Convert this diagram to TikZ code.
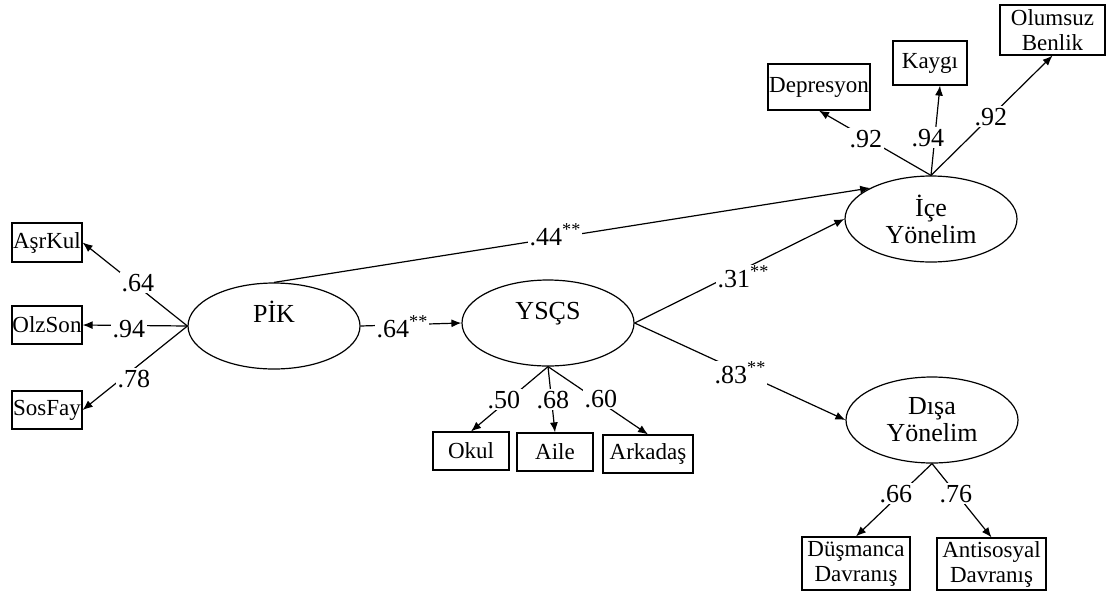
\documentclass[tikz,border=0pt]{standalone}
\usepackage{fontspec}
\setmainfont{Liberation Serif}
\usetikzlibrary{shapes.geometric,arrows.meta}
\begin{document}
\begin{tikzpicture}[x=1pt,y=-1pt,
latent/.style={draw,ellipse,line width=1.2pt,minimum width=172pt,minimum height=86pt,inner sep=0pt,align=center,font=\fontsize{26}{27}\selectfont},
latentone/.style={latent,text height=18pt,text depth=26pt},
obs/.style={draw,rectangle,line width=1.2pt,inner sep=0pt,align=center,font=\fontsize{23}{25}\selectfont},
load/.style={line width=1.2pt,-{Latex[length=10pt,width=8pt]}},
coef/.style={fill=white,inner sep=1.5pt,anchor=base west,font=\fontsize{26}{28}\selectfont}]
\useasboundingbox (0,0) rectangle (1107,592);

\node[latentone] (PIK) at (274,326) {PİK};
\node[latentone] (YSCS) at (548,323) {YSÇS};
\node[latent] (Ice) at (931,219) {İçe\\Yönelim};
\node[latent] (Disa) at (932,420) {Dışa\\Yönelim};

\node[obs,minimum width=70pt,minimum height=39pt] (AsrKul) at (47,242.5) {AşrKul};
\node[obs,minimum width=70pt,minimum height=38pt] (OlzSon) at (47,325) {OlzSon};
\node[obs,minimum width=70pt,minimum height=38pt] (SosFay) at (47,410) {SosFay};
\node[obs,minimum width=76pt,minimum height=38pt] (Okul) at (471,451) {Okul};
\node[obs,minimum width=76pt,minimum height=38pt] (Aile) at (555,452) {Aile};
\node[obs,minimum width=90pt,minimum height=38pt] (Arkadas) at (648,454) {Arkadaş};
\node[obs,minimum width=102pt,minimum height=46pt] (Depresyon) at (819,87) {Depresyon};
\node[obs,minimum width=74pt,minimum height=44pt] (Kaygi) at (930,63) {Kaygı};
\node[obs,minimum width=105pt,minimum height=50pt] (Olumsuz) at (1052.5,30) {Olumsuz\\Benlik};
\node[obs,minimum width=108pt,minimum height=53pt] (Dusmanca) at (856,563.5) {Düşmanca\\Davranış};
\node[obs,minimum width=109pt,minimum height=52pt] (Antisosyal) at (991.5,564) {Antisosyal\\Davranış};

\draw[load] (PIK.west)--(AsrKul.east);
\draw[load] (PIK.west)--(OlzSon.east);
\draw[load] (PIK.west)--(SosFay.east);
\draw[load] (PIK.east)--(YSCS.west);
\draw[load] (PIK.north)--(Ice.153);
\draw[load] (YSCS.east)--(Ice.west);
\draw[load] (YSCS.east)--(Disa.west);
\draw[load] (YSCS.south)--(Okul.north);
\draw[load] (YSCS.south)--(Aile.north);
\draw[load] (YSCS.south)--(Arkadas.north);
\draw[load] (Ice.north)--(Depresyon.south);
\draw[load] (Ice.north)--([xshift=10pt]Kaygi.south);
\draw[load] (Ice.north)--(Olumsuz.south);
\draw[load] (Disa.south)--(Dusmanca.north);
\draw[load] (Disa.south)--(Antisosyal.north);

\node[coef] (cAsrKul) at (120,291) {.64};
\node[coef] (cOlzSon) at (111,337) {.94};
\node[coef] (cSosFay) at (116,387) {.78};
\node[coef] (cPIKYSCS) at (375,337) {.64\textsuperscript{**}};
\node[coef] (cPIKIce) at (528,245) {.44\textsuperscript{**}};
\node[coef] (cYSCSIce) at (716,287) {.31\textsuperscript{**}};
\node[coef] (cYSCSDisa) at (713,383) {.83\textsuperscript{**}};
\node[coef] (cOkul) at (486,408) {.50};
\node[coef] (cAile) at (535,408) {.68};
\node[coef] (cArkadas) at (583,407) {.60};
\node[coef] (cDepresyon) at (848,147) {.92};
\node[coef] (cKaygi) at (910,146) {.94};
\node[coef] (cOlumsuz) at (973,125) {.92};
\node[coef] (cDusmanca) at (878,502) {.66};
\node[coef] (cAntisosyal) at (938,502) {.76};
\end{tikzpicture}
\end{document}
